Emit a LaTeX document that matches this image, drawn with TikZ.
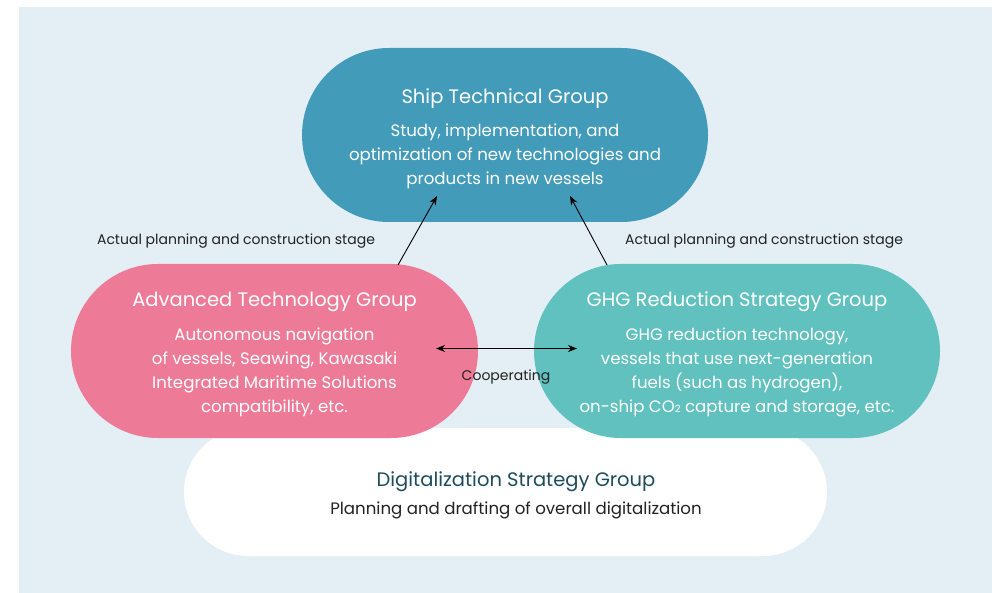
\documentclass[tikz,border=0pt]{standalone}
\usepackage{fontspec}
\setmainfont{Poppins}
\usetikzlibrary{shapes.misc,arrows.meta}
\definecolor{bgc}{HTML}{E3EEF5}
\definecolor{shipc}{HTML}{439BBA}
\definecolor{advc}{HTML}{ED7B98}
\definecolor{ghgc}{HTML}{60C1BF}
\definecolor{digt}{HTML}{1E4C5C}
\definecolor{txtc}{HTML}{222222}
\tikzset{
  grp/.style={rounded rectangle, draw=none, inner sep=0pt},
  ttl/.style={font=\fontsize{19.5}{22}\selectfont, text=white, anchor=base},
  bdy/.style={font=\fontsize{16.6}{24}\selectfont, text=white, align=center, anchor=north},
  lbl/.style={font=\fontsize{14}{16}\selectfont, text=txtc, anchor=base},
  arr/.style={-{Stealth[length=9pt,width=7pt]}, line width=0.9pt, black},
  darr/.style={{Stealth[length=9pt,width=7pt]}-{Stealth[length=9pt,width=7pt]}, line width=0.9pt, black}
}
\begin{document}
\begin{tikzpicture}[x=1pt,y=-1pt]
\useasboundingbox (0,0) rectangle (998,593);
\fill[white] (0,0) rectangle (998,593);
\fill[bgc] (19,7) rectangle (992,593);
% digital (behind)
\node[grp, fill=white, minimum width=643pt, minimum height=128pt] (dig) at (505.5,492) {};
% ship
\node[grp, fill=shipc, minimum width=406pt, minimum height=174pt] (ship) at (505,135) {};
% advanced
\node[grp, fill=advc, minimum width=407pt, minimum height=174pt] (adv) at (274.5,351) {};
% ghg
\node[grp, fill=ghgc, minimum width=406pt, minimum height=174pt] (ghg) at (737,351) {};
% texts
\node[ttl] (shipt) at (505,104) {Ship Technical Group};
\node[bdy] (shipb) at (505,120) {Study, implementation, and\\optimization of new technologies and\\products in new vessels};
\node[ttl] (advt) at (274.5,307) {Advanced Technology Group};
\node[bdy] (advb) at (274.5,324) {Autonomous navigation\\of vessels, Seawing, Kawasaki\\Integrated Maritime Solutions\\compatibility, etc.};
\node[ttl] (ghgt) at (737,307) {GHG Reduction Strategy Group};
\node[bdy] (ghgb) at (737,324) {GHG reduction technology,\\vessels that use next-generation\\fuels (such as hydrogen),\\on-ship CO{\fontsize{10}{12}\selectfont 2} capture and storage, etc.};
\node[ttl, text=digt] (digt) at (516,486) {Digitalization Strategy Group};
\node[lbl, font=\fontsize{16.6}{20}\selectfont] (digb) at (516,514) {Planning and drafting of overall digitalization};
% labels
\node[lbl] (l1) at (236,245) {Actual planning and construction stage};
\node[lbl] (l2) at (764,245) {Actual planning and construction stage};
\node[lbl] (l3) at (506,380) {Cooperating};
% arrows
\coordinate (a1s) at (398,265);
\coordinate (a1e) at (437,196);
\coordinate (a2s) at (607,265);
\coordinate (a2e) at (570,196);
\coordinate (c1) at (436,348.5);
\coordinate (c2) at (577,348.5);
\draw[arr] (a1s) -- (a1e);
\draw[arr] (a2s) -- (a2e);
\draw[darr] (c1) -- (c2);
\end{tikzpicture}
\end{document}
